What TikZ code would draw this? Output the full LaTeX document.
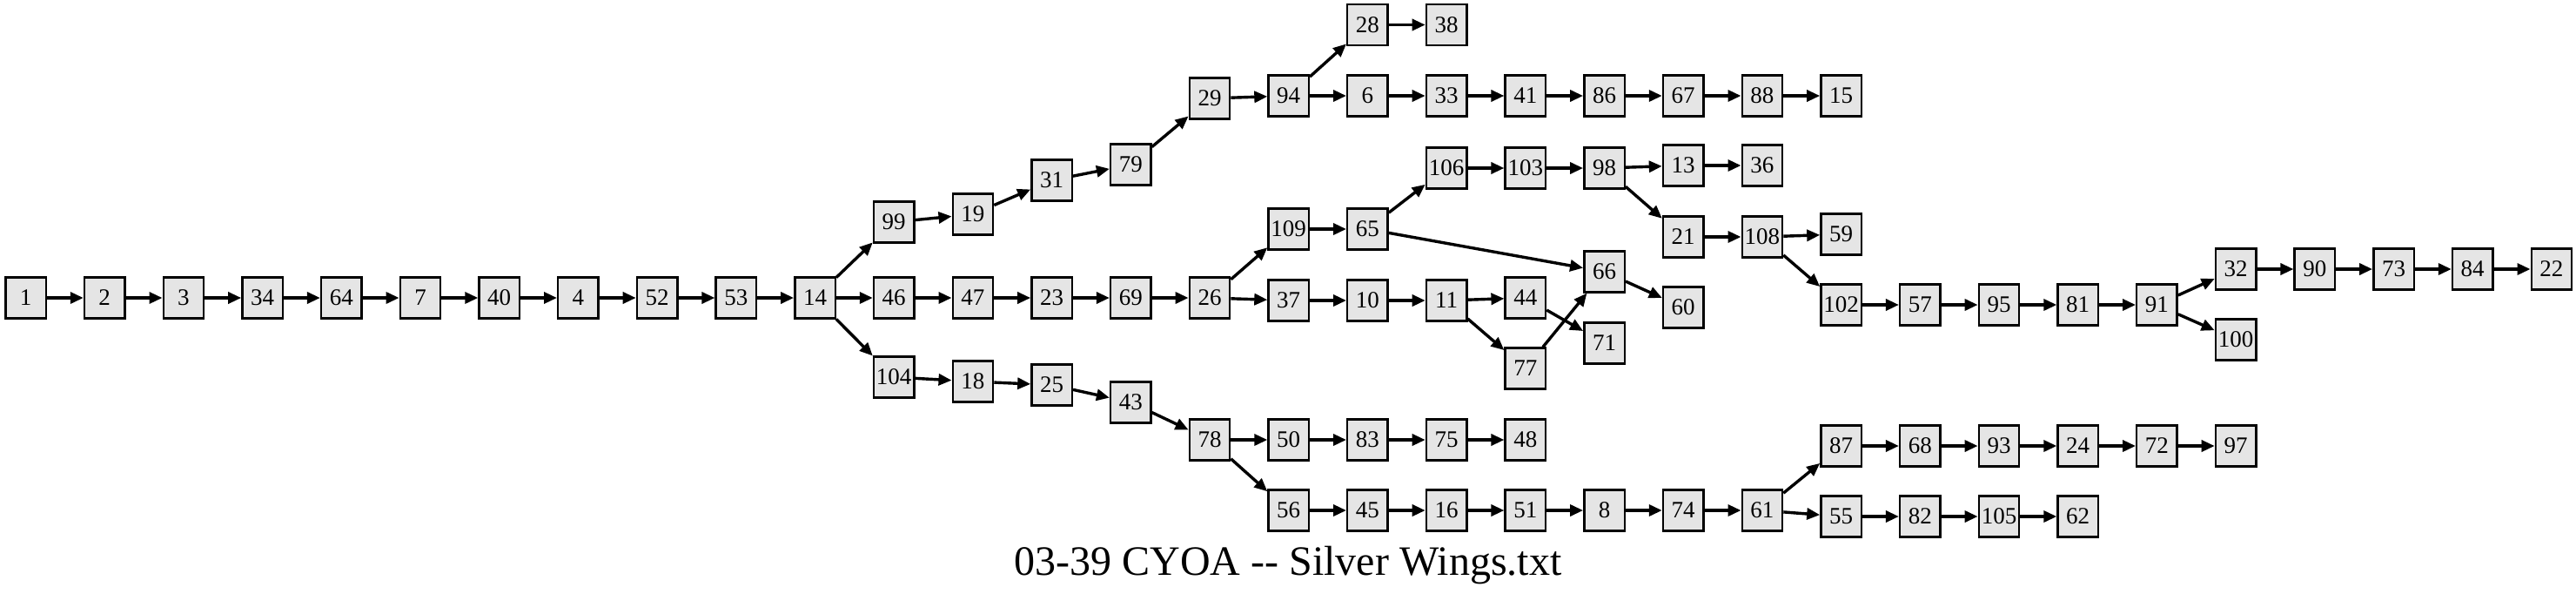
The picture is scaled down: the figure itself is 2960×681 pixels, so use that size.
\documentclass[tikz,border=0pt]{standalone}
\usepackage{fontspec}
\setmainfont{Liberation Serif}
\usetikzlibrary{arrows.meta}
\definecolor{boxfill}{RGB}{229,229,229}
\newcommand\mkn[3]{\node[bx] (n#1) at ({29.5+90.7*#2},#3) {#1};}
\begin{document}
\begin{tikzpicture}[x=0.5pt,y=-0.5pt,
  bx/.style={draw=black,fill=boxfill,line width=1.2pt,minimum width=23.2pt,minimum height=23.4pt,inner sep=0pt,font=\fontsize{13.5}{14}\selectfont},
  ed/.style={line width=1.7pt,-{Triangle[length=7.5pt,width=6.5pt]}}]
\useasboundingbox (0,0) rectangle (2960,681);
% main row
\mkn{1}{0}{342}\mkn{2}{1}{342}\mkn{3}{2}{342}\mkn{34}{3}{342}\mkn{64}{4}{342}
\mkn{7}{5}{342}\mkn{40}{6}{342}\mkn{4}{7}{342}\mkn{52}{8}{342}\mkn{53}{9}{342}
\mkn{14}{10}{342}
% upper branch
\mkn{99}{11}{255}\mkn{19}{12}{246}\mkn{31}{13}{207}\mkn{79}{14}{189}\mkn{29}{15}{113}
\mkn{94}{16}{110}\mkn{28}{17}{28.5}\mkn{38}{18}{28.5}
\mkn{6}{17}{110}\mkn{33}{18}{110}\mkn{41}{19}{110}\mkn{86}{20}{110}\mkn{67}{21}{110}
\mkn{88}{22}{110}\mkn{15}{23}{110}
% middle branch
\mkn{46}{11}{342}\mkn{47}{12}{342}\mkn{23}{13}{342}\mkn{69}{14}{342}\mkn{26}{15}{342}
\mkn{109}{16}{263}\mkn{65}{17}{263}\mkn{106}{18}{193}\mkn{103}{19}{193}\mkn{98}{20}{193}
\mkn{13}{21}{190}\mkn{36}{22}{190}\mkn{21}{21}{272}\mkn{108}{22}{272}\mkn{59}{23}{269}
\mkn{102}{23}{350}\mkn{57}{24}{350}\mkn{95}{25}{350}\mkn{81}{26}{350}\mkn{91}{27}{350}
\mkn{32}{28}{309}\mkn{90}{29}{309}\mkn{73}{30}{309}\mkn{84}{31}{309}\mkn{22}{32}{309}
\mkn{100}{28}{390}
\mkn{37}{16}{345}\mkn{10}{17}{345}\mkn{11}{18}{345}\mkn{44}{19}{342}\mkn{77}{19}{423}
\mkn{66}{20}{312}\mkn{71}{20}{394}\mkn{60}{21}{353}
% lower branch
\mkn{104}{11}{433}\mkn{18}{12}{438}\mkn{25}{13}{442}\mkn{43}{14}{462}\mkn{78}{15}{505}
\mkn{50}{16}{505}\mkn{83}{17}{505}\mkn{75}{18}{505}\mkn{48}{19}{505}
\mkn{56}{16}{586}\mkn{45}{17}{586}\mkn{16}{18}{586}\mkn{51}{19}{586}\mkn{8}{20}{586}
\mkn{74}{21}{586}\mkn{61}{22}{586}
\mkn{87}{23}{512}\mkn{68}{24}{512}\mkn{93}{25}{512}\mkn{24}{26}{512}\mkn{72}{27}{512}\mkn{97}{28}{512}
\mkn{55}{23}{593}\mkn{82}{24}{593}\mkn{105}{25}{593}\mkn{62}{26}{593}
% edges
\foreach \a/\b in {1/2,2/3,3/34,34/64,64/7,7/40,40/4,4/52,52/53,53/14,
  14/99,14/46,14/104,
  99/19,19/31,31/79,79/29,29/94,94/28,94/6,28/38,6/33,33/41,41/86,86/67,67/88,88/15,
  46/47,47/23,23/69,69/26,26/109,26/37,109/65,65/106,65/66,106/103,103/98,98/13,98/21,
  13/36,21/108,108/59,108/102,102/57,57/95,95/81,81/91,91/32,91/100,32/90,90/73,73/84,84/22,
  37/10,10/11,11/44,11/77,44/71,77/66,66/60,
  104/18,18/25,25/43,43/78,78/50,78/56,50/83,83/75,75/48,
  56/45,45/16,16/51,51/8,8/74,74/61,61/87,61/55,87/68,68/93,93/24,24/72,72/97,
  55/82,82/105,105/62}
  \draw[ed] (n\a) -- (n\b);
\node[anchor=base,font=\fontsize{24}{28}\selectfont] (title) at (1480,660) {03-39 CYOA {-}{-} Silver Wings.txt};
\end{tikzpicture}
\end{document}
